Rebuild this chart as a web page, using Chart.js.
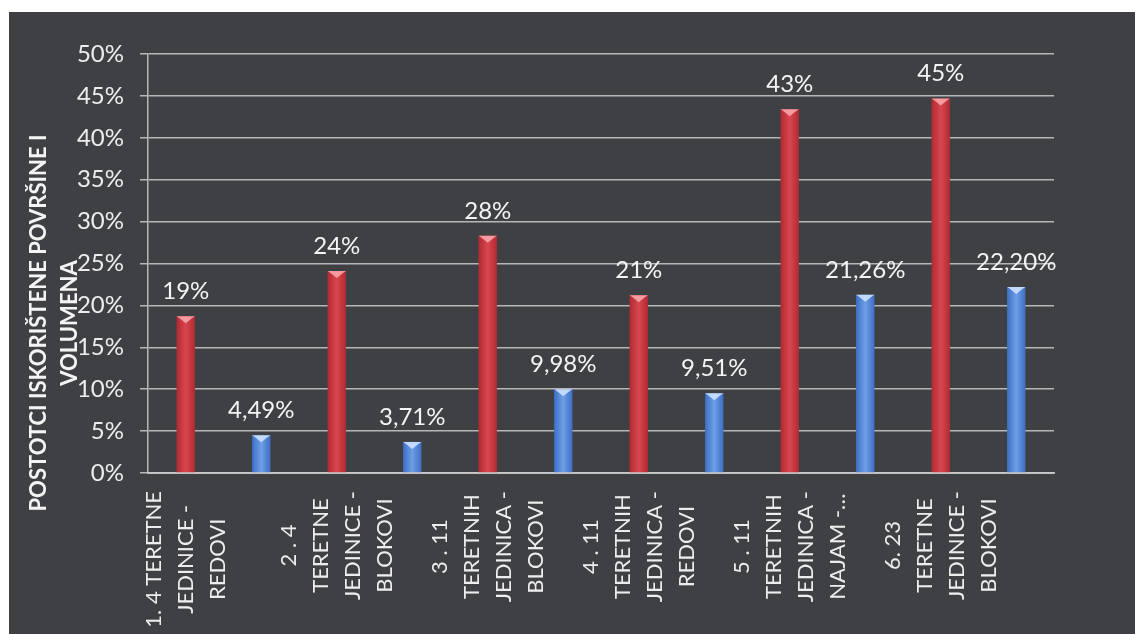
<!DOCTYPE html>
<html>
<head>
<meta charset="utf-8">
<script src="https://cdn.jsdelivr.net/npm/chart.js@4/dist/chart.umd.min.js"></script>
<style>
    html, body { margin: 0; padding: 0; background: #ffffff; }
    #wrap { position: absolute; left: 9px; top: 12px; width: 1126px; height: 622px; background: #3e4044; }
</style>
</head>
<body>
<div id="wrap"><canvas id="usageChart"></canvas></div>
<script>
'use strict';

// one label per pair of bars, split into the lines shown under the axis
var groupLabels = [
    ['1. 4 TERETNE', 'JEDINICE -', 'REDOVI'],
    ['2 . 4', 'TERETNE', 'JEDINICE -', 'BLOKOVI'],
    ['3 . 11', 'TERETNIH', 'JEDINICA -', 'BLOKOVI'],
    ['4 . 11', 'TERETNIH', 'JEDINICA -', 'REDOVI'],
    ['5 . 11', 'TERETNIH', 'JEDINICA -', 'NAJAM -…'],
    ['6. 23', 'TERETNE', 'JEDINICE -', 'BLOKOVI']
];
var surfaceValues = [18.7, 24.1, 28.3, 21.2, 43.4, 44.7];   // red bars
var volumeValues  = [4.49, 3.71, 9.98, 9.51, 21.26, 22.20]; // blue bars
var yTicks = [0, 5, 10, 15, 20, 25, 30, 35, 40, 45, 50];
var yTitle = ['POSTOTCI ISKORIŠTENE POVRŠINE I', 'VOLUMENA'];

var FONT = 'Lato';
var textColor = '#ededed';
var gridColor = 'rgba(205, 205, 205, 0.85)';

// 12 slots: red bar then blue bar for every group
var labels = [], redData = [], blueData = [];
groupLabels.forEach(function (lines, i) {
    labels.push(lines.join(' '));
    labels.push('');
    redData.push(surfaceValues[i], null);
    blueData.push(null, volumeValues[i]);
});

function barFill(edge, mid) {
    return function (ctx) {
        var chart = ctx.chart;
        if (!chart.chartArea || !chart.scales.x) return edge;
        var x = chart.scales.x.getPixelForValue(ctx.dataIndex);
        var g = chart.ctx.createLinearGradient(x - 9, 0, x + 9, 0);
        g.addColorStop(0, edge);
        g.addColorStop(0.5, mid);
        g.addColorStop(1, edge);
        return g;
    };
}

var bevelPlugin = {
    id: 'bevel',
    afterDatasetsDraw: function (chart) {
        var c = chart.ctx;
        chart.data.datasets.forEach(function (ds, di) {
            chart.getDatasetMeta(di).data.forEach(function (bar, i) {
                if (ds.data[i] == null) return;
                var w = bar.width;
                c.save();
                c.fillStyle = ds.bevelColor;
                c.beginPath();
                c.moveTo(bar.x - w / 2, bar.y);
                c.lineTo(bar.x + w / 2, bar.y);
                c.lineTo(bar.x + w / 2 - 3, bar.y + 2);
                c.lineTo(bar.x, bar.y + 7);
                c.lineTo(bar.x - w / 2 + 3, bar.y + 2);
                c.closePath();
                c.fill();
                c.restore();
            });
        });
    }
};

var valueLabelPlugin = {
    id: 'valueLabels',
    afterDatasetsDraw: function (chart) {
        var c = chart.ctx;
        c.save();
        c.font = '24px ' + FONT;
        c.fillStyle = '#f4f4f4';
        c.textAlign = 'center';
        c.textBaseline = 'alphabetic';
        chart.data.datasets.forEach(function (ds, di) {
            chart.getDatasetMeta(di).data.forEach(function (bar, i) {
                var v = ds.data[i];
                if (v == null) return;
                var txt = di === 0 ? Math.round(v) + '%' : v.toFixed(2).replace('.', ',') + '%';
                c.fillText(txt, bar.x, bar.y - 17);
            });
        });
        c.restore();
    }
};

var axisTextPlugin = {
    id: 'axisText',
    afterDraw: function (chart) {
        var c = chart.ctx;
        var xs = chart.scales.x;
        var lh = 32;
        c.save();
        c.font = '22px ' + FONT;
        c.fillStyle = textColor;
        c.textAlign = 'center';
        c.textBaseline = 'middle';
        groupLabels.forEach(function (lines, gi) {
            var x = xs.getPixelForValue(gi * 2);
            var maxW = 0;
            lines.forEach(function (l) { maxW = Math.max(maxW, c.measureText(l).width); });
            var yc = xs.top + 18 + maxW / 2;
            lines.forEach(function (l, k) {
                var lx = x + (k - (lines.length - 1) / 2) * lh;
                c.save();
                c.translate(lx, yc);
                c.rotate(-Math.PI / 2);
                c.fillText(l, 0, 0);
                c.restore();
            });
        });
        // y axis title
        c.font = 'bold 22px ' + FONT;
        c.fillStyle = '#f4f4f4';
        var yc2 = chart.height / 2;
        yTitle.forEach(function (t, k) {
            c.save();
            c.translate(30 + k * 31, yc2);
            c.rotate(-Math.PI / 2);
            c.fillText(t, 0, 0);
            c.restore();
        });
        c.restore();
    }
};

var usageChart = new Chart(document.getElementById('usageChart'), {
    type: 'bar',
    data: {
        labels: labels,
        datasets: [
            {
                label: 'Površina',
                data: redData,
                backgroundColor: barFill('#b32a32', '#d8474f'),
                bevelColor: 'rgba(250, 170, 175, 0.85)',
                grouped: false,
                barPercentage: 0.243,
                categoryPercentage: 1
            },
            {
                label: 'Volumen',
                data: blueData,
                backgroundColor: barFill('#3d6fc6', '#6f9fe6'),
                bevelColor: 'rgba(205, 225, 255, 0.9)',
                grouped: false,
                barPercentage: 0.243,
                categoryPercentage: 1
            }
        ]
    },
    options: {
        responsive: true,
        maintainAspectRatio: false,
        animation: false,
        layout: { padding: { top: 42, right: 81, bottom: 0, left: 0 } },
        plugins: {
            legend: { display: false },
            tooltip: { enabled: false }
        },
        scales: {
            x: {
                grid: { display: false },
                border: { display: true, color: gridColor, width: 2 },
                ticks: { display: false },
                afterFit: function (scale) { scale.height = 161; }
            },
            y: {
                min: 0,
                max: 50,
                afterBuildTicks: function (scale) {
                    scale.ticks = yTicks.map(function (v) { return { value: v }; });
                },
                grid: { color: gridColor, lineWidth: 1.5, tickLength: 8 },
                border: { display: true, color: gridColor, width: 1.5 },
                ticks: {
                    color: textColor,
                    padding: 16,
                    font: { family: FONT, size: 24 },
                    callback: function (v) { return v + '%'; }
                },
                afterFit: function (scale) { scale.width = 139; }
            }
        }
    },
    plugins: [bevelPlugin, valueLabelPlugin, axisTextPlugin]
});
</script>
</body>
</html>
